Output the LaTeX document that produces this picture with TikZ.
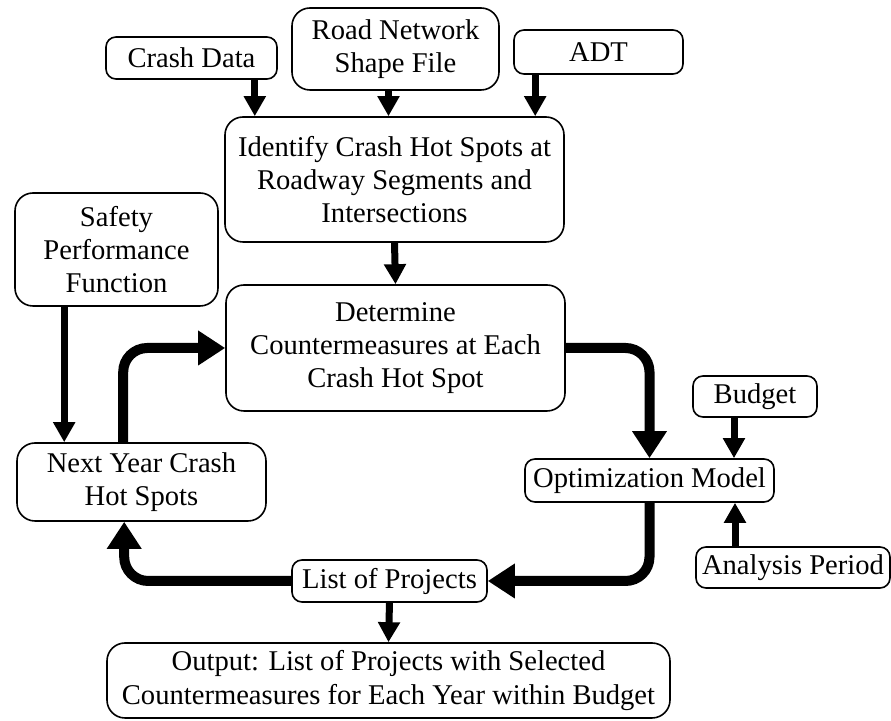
\documentclass[tikz,border=0pt]{standalone}
\usepackage{fontspec}
\setmainfont{Liberation Serif}
\usepackage{tikz}
\usetikzlibrary{arrows.meta}

\begin{document}
\begin{tikzpicture}[x=0.5pt,y=-0.5pt,
box/.style={draw,line width=0.8pt,rounded corners=5pt,align=center,inner sep=0pt,
  font=\fontsize{14.3}{16.6}\selectfont},
bigbox/.style={box,rounded corners=9pt},
feed/.style={line width=3.5pt,-{Triangle[length=10pt,width=10.5pt]}},
flow/.style={line width=5pt,rounded corners=12pt,-{Triangle[length=13.5pt,width=16.5pt]}}]
\useasboundingbox (0,0) rectangle (891,721);

% inputs
\node[box,minimum width=85.5pt,minimum height=21pt] (crash) at (191.5,58) {Crash Data};
\node[bigbox,minimum width=103.5pt,minimum height=41pt] (road) at (395.5,49) {Road Network\\Shape File};
\node[box,minimum width=84.5pt,minimum height=22pt] (adt) at (598.5,52) {ADT};

% main steps
\node[bigbox,minimum width=169.5pt,minimum height=62.5pt] (ident) at (394.5,179.5) {Identify Crash Hot Spots at\\Roadway Segments and\\Intersections};
\node[bigbox,minimum width=101.5pt,minimum height=56.5pt] (spf) at (116.5,249.5) {Safety\\Performance\\Function};
\node[bigbox,minimum width=169.5pt,minimum height=63pt] (determ) at (395.5,348) {Determine\\Countermeasures at Each\\Crash Hot Spot};
\node[bigbox,minimum width=124.5pt,minimum height=39pt] (nexty) at (141.5,482) {Next Year Crash\\Hot Spots};
\node[box,minimum width=62pt,minimum height=20.5pt] (budget) at (755,396.5) {Budget};
\node[box,minimum width=124.5pt,minimum height=21.5pt] (optim) at (649.5,480.5) {Optimization Model};
\node[box,minimum width=97pt,minimum height=20.5pt] (period) at (793,567.5) {Analysis Period};
\node[box,minimum width=97.5pt,minimum height=21pt] (list) at (389.5,581) {List of Projects};
\node[bigbox,minimum width=281.5pt,minimum height=37.5pt] (output) at (388.5,680.5) {Output: List of Projects with Selected\\Countermeasures for Each Year within Budget};

% thin arrows
\draw[feed] ([xshift=-11.5pt]crash.south east) -- ([xshift=-11.5pt]crash.south east |- ident.north);
\draw[feed] ([xshift=-3.5pt]road.south) -- ([xshift=-3.5pt]road.south |- ident.north);
\draw[feed] ([xshift=11pt]adt.south west) -- ([xshift=11pt]adt.south west |- ident.north);
\draw[feed] (ident.south) -- (determ.north);
\draw[feed] ([xshift=25pt]spf.south west) -- ([xshift=25pt]spf.south west |- nexty.north);
\draw[feed] ([xshift=-10.5pt]budget.south) -- ([xshift=-10.5pt]budget.south |- optim.north);
\draw[feed] ([xshift=-29pt]period.north) -- ([xshift=-29pt]period.north |- optim.south);
\draw[feed] (list.south) -- (output.north);

% loop
\draw[flow] ([xshift=53.5pt]nexty.north west) |- (determ.west);
\draw[flow] (determ.east) -| (optim.north);
\draw[flow] (optim.south) |- (list.east);
\draw[flow] (list.west) -| ([xshift=54pt]nexty.south west);
\end{tikzpicture}
\end{document}
